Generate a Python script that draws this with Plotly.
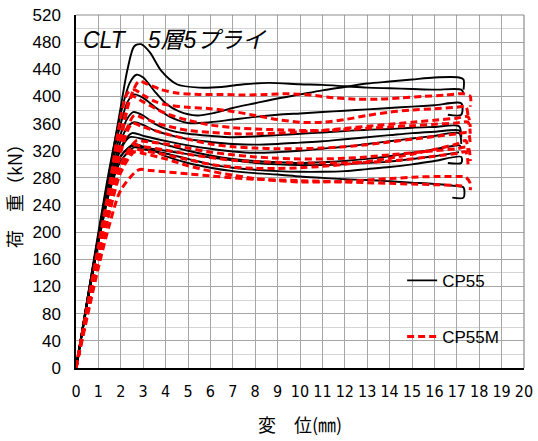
import plotly.graph_objects as go

# ---------------- data ----------------
# CP55 (black solid) load-displacement curves: displacement (mm), load (kN)
cp55_x = [
    [0, 0.5, 1, 1.5, 2, 2.3, 2.6, 2.9, 3.3, 3.8, 4.5, 5.5, 6.5, 7.5, 8.6, 10, 11, 12, 13, 14, 15, 16, 17.2, 17.3],
    [0, 0.5, 1, 1.5, 2, 2.4, 2.7, 3.0, 3.5, 4.0, 4.6, 5.4, 6.2, 7, 8, 9, 10, 11, 12, 13, 14, 15, 16, 17.1, 17.3, 17.3],
    [0, 0.5, 1, 1.5, 2, 2.3, 2.6, 3.0, 3.5, 4.2, 5, 6, 7, 8, 9, 10, 11, 12, 13, 14, 15, 16, 17.2, 17.2, 16.6],
    [0, 0.5, 1, 1.5, 2, 2.3, 2.55, 3, 3.5, 4.2, 5, 6, 7, 8, 9, 10, 11, 12, 13, 14, 15, 16, 17.1, 17.2],
    [0, 0.5, 1, 1.5, 2, 2.3, 2.6, 3, 3.5, 4.2, 5, 6, 7, 8, 9, 10, 11, 12, 13, 14, 15, 16, 17.1, 17.2],
    [0, 0.5, 1, 1.5, 2, 2.5, 3, 3.5, 4.2, 5, 6, 7, 8, 9, 10, 11, 12, 13, 14, 15, 16, 17.1, 17.2],
    [0, 0.5, 1, 1.5, 2, 2.4, 3, 3.5, 4.2, 5, 6, 7, 8, 9, 10, 11, 12, 13, 14, 15, 16, 17.1, 17.2],
    [0, 0.5, 1, 1.5, 2, 2.5, 3, 4, 5, 6, 7, 8, 9, 10, 11, 12, 13, 14, 15, 16, 17.1],
    [0, 0.5, 1, 1.5, 2, 2.6, 3, 4, 5, 6, 7, 8, 9, 10, 11, 12, 13, 14, 15, 16, 17.2, 17.2, 16.6],
    [0, 0.5, 1, 1.5, 2, 2.6, 3, 3.5, 4, 5, 6, 7, 8, 9, 10, 11, 12, 13, 14, 15, 16, 17, 17.3, 17.3, 16.8],
]
cp55_y = [
    [0, 95, 190, 290, 385, 440, 474, 477, 465, 438, 418, 413, 414, 418, 420, 418, 417, 415, 413, 412, 411, 410, 410, 405],
    [0, 100, 200, 295, 375, 420, 432, 428, 408, 390, 378, 372, 376, 383, 390, 397, 403, 409, 414, 419, 422, 425, 428, 428, 425, 410],
    [0, 100, 195, 290, 360, 392, 403, 398, 385, 370, 361, 362, 366, 370, 373, 375, 377, 379, 381, 383, 385, 387, 390, 373, 373],
    [0, 100, 195, 285, 345, 368, 377, 372, 360, 350, 345, 342, 340, 341, 343, 345, 347, 349, 351, 352, 354, 355, 356, 340],
    [0, 98, 190, 275, 335, 355, 362, 358, 350, 343, 337, 333, 330, 329, 330, 332, 334, 337, 340, 343, 346, 348, 350, 345],
    [0, 98, 190, 270, 325, 346, 342, 338, 333, 328, 323, 319, 317, 318, 320, 323, 326, 330, 334, 338, 342, 346, 330],
    [0, 97, 188, 268, 322, 340, 337, 333, 327, 320, 313, 308, 305, 303, 302, 303, 305, 308, 312, 317, 322, 328, 325],
    [0, 95, 185, 262, 312, 327, 325, 320, 315, 310, 306, 302, 300, 299, 299, 300, 302, 304, 308, 312, 318],
    [0, 95, 185, 260, 305, 325, 322, 316, 308, 300, 295, 292, 290, 289, 289, 290, 293, 296, 300, 305, 311, 302, 302],
    [0, 96, 188, 265, 312, 330, 326, 320, 312, 302, 295, 290, 287, 285, 282, 280, 278, 277, 275, 273, 271, 268, 266, 251, 251],
]

# CP55M (red dashed) load-displacement curves
cp55m_x = [
    [0, 0.5, 1, 1.5, 2, 2.4, 2.8, 3.2, 3.8, 4.5, 5.5, 6.5, 7.5, 8.5, 9.5, 10.5, 11.5, 12.5, 13.5, 14.5, 15.5, 16.5, 17.3, 17.6, 17.6],
    [0, 0.5, 1, 1.5, 2, 2.3, 2.6, 3, 3.5, 4, 5, 6, 7, 8, 9, 10, 11, 12, 13, 14, 15, 16, 17, 17.4, 17.5],
    [0, 0.5, 1, 1.5, 2, 2.5, 3, 3.5, 4, 5, 6, 7, 8, 9, 10, 11, 12, 13, 14, 15, 16, 17, 17.5, 17.6],
    [0, 0.5, 1, 1.5, 2, 2.6, 3, 3.5, 4, 5, 6, 7, 8, 9, 10, 11, 12, 13, 14, 15, 16, 17, 17.5, 17.6],
    [0, 0.5, 1, 1.5, 2, 2.5, 3, 4, 5, 6, 7, 8, 9, 10, 11, 12, 13, 14, 15, 16, 17, 17.5, 17.6],
    [0, 0.5, 1, 1.5, 2, 2.7, 3, 4, 5, 6, 7, 8, 9, 10, 11, 12, 13, 14, 15, 16, 17, 17.5, 17.6],
    [0, 0.5, 1, 1.5, 2, 2.6, 3, 4, 5, 6, 7, 8, 9, 10, 11, 12, 13, 14, 15, 16, 17, 17.4, 17.5],
    [0, 0.5, 1, 1.5, 2, 2.6, 3, 4, 5, 6, 7, 8, 9, 10, 11, 12, 13, 14, 15, 16, 17, 17.4, 17.5],
    [0, 0.5, 1, 1.5, 2, 2.8, 3.3, 4, 5, 6, 7, 8, 9, 10, 11, 12, 13, 14, 15, 16, 17, 17.3],
    [0, 0.5, 1, 1.5, 2, 2.6, 3, 4, 5, 6, 7, 8, 9, 10, 11, 12, 13, 14, 15, 16, 17, 17.4, 17.6, 17.6],
]
cp55m_y = [
    [0, 85, 170, 255, 335, 395, 422, 418, 410, 405, 403, 403, 402, 403, 404, 402, 398, 396, 396, 398, 400, 402, 404, 400, 385],
    [0, 90, 180, 270, 370, 405, 410, 402, 393, 388, 384, 382, 378, 372, 366, 362, 362, 366, 372, 377, 380, 382, 384, 385, 372],
    [0, 88, 175, 262, 345, 400, 392, 383, 375, 365, 358, 354, 352, 351, 350, 350, 351, 353, 355, 357, 359, 361, 362, 345],
    [0, 85, 170, 250, 325, 372, 368, 362, 357, 350, 347, 345, 345, 346, 348, 350, 353, 356, 359, 362, 365, 368, 370, 355],
    [0, 85, 168, 248, 318, 360, 355, 345, 337, 330, 326, 324, 323, 323, 324, 326, 329, 333, 337, 341, 345, 346, 330],
    [0, 82, 162, 238, 300, 335, 334, 330, 324, 318, 314, 311, 309, 308, 308, 309, 311, 314, 317, 320, 323, 325, 305],
    [0, 82, 160, 235, 298, 328, 326, 321, 315, 310, 306, 304, 303, 302, 302, 302, 303, 305, 308, 312, 316, 318, 300],
    [0, 80, 158, 232, 292, 322, 320, 314, 307, 300, 296, 294, 294, 295, 297, 300, 304, 309, 315, 322, 330, 335, 318],
    [0, 75, 148, 212, 262, 292, 291, 289, 286, 283, 280, 278, 277, 276, 275, 274, 273, 272, 271, 270, 269, 268],
    [0, 80, 158, 230, 288, 318, 316, 308, 298, 290, 284, 279, 276, 274, 274, 275, 277, 279, 281, 282, 282, 281, 272, 262],
]

series_names = ["CP55", "CP55M"]
title_text = "CLT　5層5プライ"
x_title = "変　位(㎜)"
y_title = "荷　重（kN）"

# ---------------- figure ----------------
fig = go.Figure()

for i, (xs, ys) in enumerate(zip(cp55_x, cp55_y)):
    fig.add_trace(go.Scatter(
        x=xs, y=ys, mode="lines", name=series_names[0],
        legendgroup="a", showlegend=(i == 0),
        line=dict(color="black", width=1.9, shape="spline", smoothing=0.8),
    ))

for i, (xs, ys) in enumerate(zip(cp55m_x, cp55m_y)):
    fig.add_trace(go.Scatter(
        x=xs, y=ys, mode="lines", name=series_names[1],
        legendgroup="b", showlegend=(i == 0),
        line=dict(color="#ff0000", width=3, dash="7px,4px", shape="spline", smoothing=0.8),
    ))

# white legend panel
fig.add_shape(type="rect", xref="paper", yref="paper",
              x0=0.723, x1=0.973, y0=0.003, y1=0.32,
              fillcolor="white", line=dict(width=0), layer="between")

fig.add_annotation(
    text="<i>" + title_text + "</i>", xref="paper", yref="paper",
    x=0.012, y=0.929, xanchor="left", yanchor="middle", showarrow=False,
    font=dict(family="Liberation Sans, Noto Sans CJK JP", size=23, color="black"),
)

fig.update_layout(
    width=538, height=441,
    margin=dict(l=76, r=14, t=15, b=73),
    paper_bgcolor="white", plot_bgcolor="white",
    font=dict(family="Liberation Sans, Noto Sans CJK JP", color="black"),
    legend=dict(
        x=0.728, y=0.298, xanchor="left", yanchor="top",
        bgcolor="rgba(0,0,0,0)", borderwidth=0,
        traceorder="grouped", tracegroupgap=31,
        font=dict(family="Liberation Sans", size=17, color="black"),
        itemwidth=30,
    ),
    xaxis=dict(
        range=[0, 20], dtick=1, tick0=0, automargin=False,
        showgrid=True, gridcolor="#a6a6a6", gridwidth=1,
        showline=True, linecolor="black", linewidth=1.5, mirror=False,
        zeroline=False, ticks="",
        tickfont=dict(family="Liberation Sans Narrow, DejaVu Sans Condensed, Liberation Sans", size=16, color="black"),
        ticklabelstandoff=8,
        title=dict(text=x_title, font=dict(family="Noto Sans CJK JP", size=18, color="black"), standoff=19),
    ),
    yaxis=dict(
        range=[0, 520], dtick=40, tick0=0, automargin=False,
        showgrid=True, gridcolor="#a6a6a6", gridwidth=1,
        minor=dict(dtick=20, showgrid=True, gridcolor="#d4d4d4", gridwidth=1),
        showline=True, linecolor="black", linewidth=1.5,
        zeroline=False, ticks="",
        tickfont=dict(family="Liberation Sans", size=17, color="black"),
        ticklabelstandoff=10,
        title=dict(text=y_title, font=dict(family="Noto Sans CJK JP", size=18, color="black"), standoff=5),
    ),
)

# gray frame on top/right
fig.add_shape(type="line", xref="paper", yref="paper", x0=0, x1=1, y0=1, y1=1,
              line=dict(color="#8c8c8c", width=1.2), layer="above")
fig.add_shape(type="line", xref="paper", yref="paper", x0=1, x1=1, y0=0, y1=1,
              line=dict(color="#8c8c8c", width=1.2), layer="above")

fig.write_html("out.html")
